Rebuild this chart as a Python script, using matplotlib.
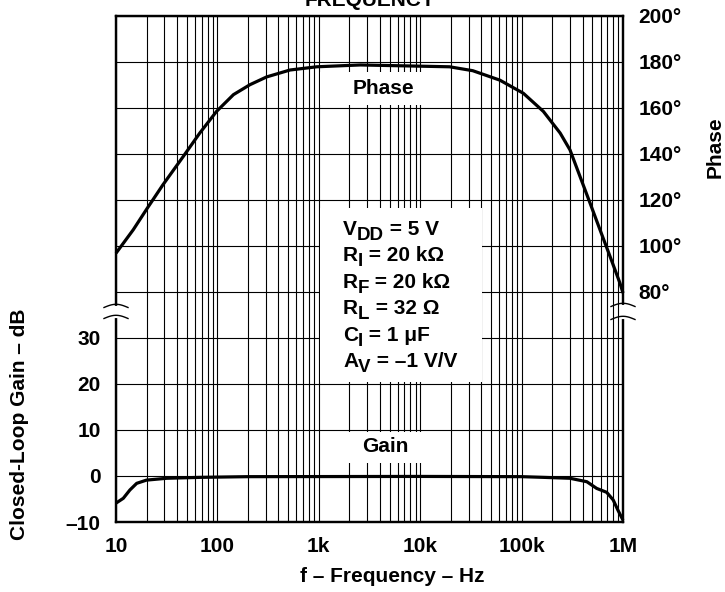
import numpy as np
import matplotlib
matplotlib.use("Agg")
import matplotlib.pyplot as plt
from matplotlib.lines import Line2D
from matplotlib.patches import Rectangle
from matplotlib.ticker import FixedLocator, LogLocator, NullFormatter

# ---------------- data ----------------
phase_freq = [10, 14.8, 20.1, 29, 46, 67, 98, 144, 209, 306, 520, 955, 2000, 2570,
              19500, 33000, 61000, 104000, 164000, 240000, 300000, 377000, 473000,
              593000, 745000, 933000, 1000000]
phase_deg = [96.8, 107, 116, 126.5, 138.8, 149, 158.4, 165.7, 170, 173.4, 176.4, 177.8,
             178.4, 178.6, 177.8, 176.1, 172, 166.3, 158.4, 149, 141.7, 130.1, 118.6,
             107, 95.4, 83.8, 79.5]

gain_freq = [10, 11.8, 13.7, 16, 20, 31.6, 68, 200, 10000, 100000, 164000, 300000,
             440000, 550000, 690000, 800000, 890000, 1000000]
gain_db = [-5.9, -4.85, -3.05, -1.6, -0.9, -0.5, -0.3, -0.15, -0.1, -0.15, -0.3, -0.5,
           -1.25, -2.7, -3.55, -5.2, -7.4, -9.6]

x_ticks = [10, 100, 1e3, 1e4, 1e5, 1e6]
x_tick_labels = ["10", "100", "1k", "10k", "100k", "1M"]
gain_ticks = [-10, 0, 10, 20, 30]
gain_tick_labels = ["\u201310", "0", "10", "20", "30"]
phase_ticks = [80, 100, 120, 140, 160, 180, 200]
phase_tick_labels = ["80\u00b0", "100\u00b0", "120\u00b0", "140\u00b0", "160\u00b0", "180\u00b0", "200\u00b0"]

cond_lines = [("V", "DD", " = 5 V"),
              ("R", "I", " = 20 k\u03a9"),
              ("R", "F", " = 20 k\u03a9"),
              ("R", "L", " = 32 \u03a9"),
              ("C", "I", " = 1 \u03bcF"),
              ("A", "V", " = \u20131 V/V")]

# ---------------- style ----------------
plt.rcParams["font.family"] = ["Liberation Sans", "DejaVu Sans"]
plt.rcParams["font.weight"] = "bold"
FS = 15

W, H = 725, 592
fig = plt.figure(figsize=(W / 100, H / 100), dpi=100)


def fx(px):
    return px / W


def fy(py):
    return 1 - py / H


L, R, T, B = 116, 623, 15.7, 522
ax = fig.add_axes([fx(L), fy(B), fx(R) - fx(L), fy(T) - fy(B)])
ax.set_xscale("log")
ax.set_xlim(10, 1e6)
ax.set_ylim(-10, 100)
ax.set_axisbelow(True)

ax.xaxis.set_major_locator(FixedLocator(x_ticks))
ax.set_xticklabels(x_tick_labels)
ax.xaxis.set_minor_locator(LogLocator(base=10, subs=range(2, 10)))
ax.xaxis.set_minor_formatter(NullFormatter())
ax.set_yticks(range(-10, 101, 10))
ax.set_yticklabels([gain_tick_labels[gain_ticks.index(v)] if v in gain_ticks else ""
                    for v in range(-10, 101, 10)])
ax.grid(True, which="both", color="black", linewidth=0.8)
ax.tick_params(which="both", length=0)
ax.tick_params(axis="x", pad=11, labelsize=FS)
ax.tick_params(axis="y", pad=11, labelsize=FS)
for lab in ax.get_xticklabels() + ax.get_yticklabels():
    lab.set_fontweight("bold")

ax2 = ax.twinx()
ax2.set_ylim(-20, 200)
ax2.set_yticks(phase_ticks)
ax2.set_yticklabels(phase_tick_labels)
ax2.tick_params(length=0, pad=11, labelsize=FS)
for lab in ax2.get_yticklabels():
    lab.set_fontweight("bold")

for a in (ax, ax2):
    for s in a.spines.values():
        s.set_linewidth(1.6)
        s.set_color("black")

# white label boxes (hide grid)
ax.add_patch(Rectangle((1028, 20.5), 40600 - 1028, 58.2 - 20.5, facecolor="white",
                       edgecolor="none", zorder=1))
ax.add_patch(Rectangle((1028, 80.6), 18400 - 1028, 87.8 - 80.6, facecolor="white",
                       edgecolor="none", zorder=1))
ax.add_patch(Rectangle((1854, 2.8), 18400 - 1854, 9.55 - 2.8, facecolor="white",
                       edgecolor="none", zorder=1))

# curves
ax.plot(gain_freq, gain_db, color="black", linewidth=2.3, zorder=3,
        solid_capstyle="butt", clip_on=False)
ax2.plot(phase_freq, phase_deg, color="black", linewidth=2.3, zorder=3,
         solid_capstyle="butt", clip_on=False)

# labels inside plot
fig.text(fx(383), fy(88), "Phase", ha="center", va="center", fontsize=FS, fontweight="bold")
fig.text(fx(385), fy(447), "Gain", ha="center", va="center", fontsize=FS, fontweight="bold")

renderer = fig.canvas.get_renderer()
x0 = 343
for i, (m, sub, rest) in enumerate(cond_lines):
    yb = 235 + 26.4 * i
    t1 = fig.text(fx(x0), fy(yb), m, ha="left", va="baseline", fontsize=FS, fontweight="bold")
    w1 = t1.get_window_extent(renderer).width
    t2 = fig.text(fx(x0 + w1), fy(yb + 5), sub, ha="left", va="baseline", fontsize=FS - 1.5,
                  fontweight="bold")
    w2 = t2.get_window_extent(renderer).width
    fig.text(fx(x0 + w1 + w2), fy(yb), rest, ha="left", va="baseline", fontsize=FS,
             fontweight="bold")

# axis labels / title
fig.text(fx(370), fy(6.5), "FREQUENCY", ha="center", va="baseline", fontsize=FS, fontweight="bold")
fig.text(fx(20), fy(424), "Closed-Loop Gain \u2013 dB", rotation=90, ha="center", va="center",
         fontsize=FS, fontweight="bold")
fig.text(fx(715), fy(147), "Phase", rotation=90, ha="center", va="center",
         fontsize=FS, fontweight="bold")
fig.text(fx(392), fy(577), "f \u2013 Frequency \u2013 Hz", ha="center", va="center",
         fontsize=FS, fontweight="bold")

# axis breaks
for xs, (ya, yb2) in ((L, (306, 317)), (R, (305, 318))):
    fig.add_artist(Line2D([fx(xs), fx(xs)], [fy(ya + 1.5), fy(yb2 - 1.5)], color="white",
                          linewidth=3, transform=fig.transFigure, zorder=10))
    t = np.linspace(0, 1, 30)
    for y0 in (ya, yb2):
        xx = xs - 12 + 24 * t
        yy = y0 - 3.2 * np.sin(np.pi * t) + 1.5
        fig.add_artist(Line2D(fx(xx), fy(yy), color="black", linewidth=1.0,
                              transform=fig.transFigure, zorder=11))

fig.savefig("out.png", dpi=100)
